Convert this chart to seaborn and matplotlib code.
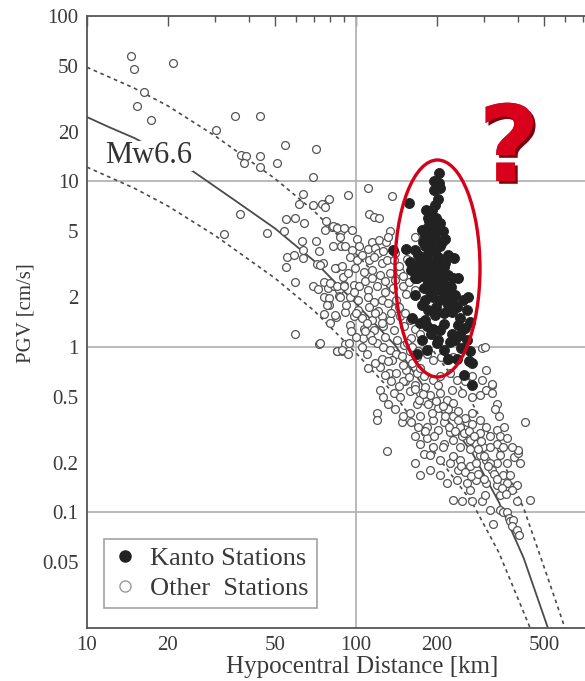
import numpy as np
import pandas as pd
import seaborn as sns
import matplotlib
matplotlib.use("Agg")
import matplotlib.pyplot as plt
from matplotlib.patches import Ellipse
from matplotlib.lines import Line2D
import matplotlib.patheffects as pe

# ---------------- data ----------------
OTHER_DIST = [
    14.6, 15.0, 20.9, 16.3, 15.3, 17.3, 35.6, 43.9, 30.1, 54.6, 71.2, 37.4, 38.9, 38.4, 43.9, 44.0,
    50.8, 69.4, 63.4, 61.5, 69.0, 75.9, 79.6, 37.2, 32.2, 46.7, 54.9, 59.5, 64.2, 53.9, 77.2, 76.5,
    81.4, 84.5, 87.9, 63.0, 70.8, 87.9, 63.5, 73.1, 55.4, 59.0, 63.4, 54.9, 71.6, 75.4, 84.3, 59.2,
    69.2, 72.2, 76.3, 78.5, 83.0, 86.7, 89.5, 90.0, 75.9, 79.1, 79.6, 86.7, 76.3, 79.9, 84.3, 59.3,
    73.1, 85.0, 88.7, 91.2,
    111, 136, 93, 75, 77, 112, 117, 122, 82, 85, 90, 97, 134, 165, 87, 101, 115, 122, 129, 131,
    82, 91, 97, 103, 111, 118, 121, 126, 95, 101, 112, 117, 125, 130, 138, 73.5, 83.5, 89, 93, 99,
    107, 115, 123, 134, 146, 80, 85, 90, 98, 103, 111, 120, 128, 137, 150, 157, 87, 95, 102, 111,
    117, 125, 132, 141, 154, 165, 78, 83.5, 91, 98, 105, 115, 125, 134, 146, 159, 95, 107, 117, 126,
    138, 151, 165, 173, 73.5, 85, 89, 93, 94, 120, 126, 134, 141, 151, 159, 169, 184, 194, 207, 218,
    230, 293, 111, 123, 133, 141, 154, 169, 179, 194, 205, 224, 237, 255, 271, 293, 304, 319, 123, 126,
    138, 146, 159, 173, 188, 205, 218, 230, 248, 269, 289, 304, 320, 334, 120, 120, 148, 159, 173, 184,
    194, 212, 230, 244, 258, 271, 289, 304, 333, 343, 425, 165, 173, 184, 194, 212, 230, 244, 265, 280,
    297, 315, 333, 353, 130, 165, 179, 188, 205, 224, 244, 265, 280, 304, 333, 364, 386, 400, 407, 218,
    237, 258, 280, 304, 333, 364, 397, 230, 248, 271, 293, 315, 343, 353, 364, 369, 374, 385, 379, 397,
    402, 324, 397, 444, 302, 400,
    102, 112, 121, 140, 152, 106, 113, 128, 142, 160, 136, 149, 161, 173, 152, 166, 181, 201, 228, 168,
    181, 201, 220, 240, 255, 271, 289, 315, 201, 224, 248, 265, 289, 320, 353, 374, 380, 343, 302, 265,
    343, 315, 188, 173, 205, 240,
    150, 158, 165, 172, 178, 186, 192, 198, 210, 215, 222, 233, 240, 252, 262, 275, 283, 292, 300, 310,
    325, 335, 350, 360, 230, 245, 255, 268, 285, 300, 210, 195, 180, 170, 160, 150, 140, 132, 145, 135,
    128, 118, 110, 105, 100, 96, 108, 115, 125, 132, 148, 155, 162, 170, 125, 135, 145, 118, 110, 100,
    92, 98, 108, 115, 128, 140, 150, 160, 145, 155, 140, 105, 340, 355, 330, 365, 380, 320,
]
OTHER_PGV = [
    57.5, 47.6, 51.8, 34.7, 28.7, 23.5, 24.9, 25.0, 20.4, 16.5, 15.6, 14.4, 14.3, 12.9, 14.3, 12.2,
    12.9, 10.6, 8.37, 7.34, 7.24, 7.34, 7.87, 6.39, 4.84, 4.89, 5.93, 6.02, 5.64, 5.0, 5.75, 5.07,
    5.29, 5.3, 5.04, 4.35, 4.37, 4.07, 3.84, 3.79, 3.50, 3.58, 3.45, 3.06, 3.16, 3.2, 2.99, 2.46,
    2.35, 2.23, 2.46, 2.26, 2.35, 2.21, 2.65, 2.37, 1.99, 1.98, 1.80, 2.03, 1.57, 1.40, 1.52, 1.19,
    1.04, 0.94, 0.95, 1.04,
    9.1, 8.2, 8.3, 7.3, 7.0, 6.4, 6.1, 6.0, 5.4, 5.2, 5.2, 5.1, 5.0, 4.6, 4.6, 4.5, 4.3, 4.4, 4.3, 4.6,
    4.1, 4.1, 3.86, 4.1, 3.9, 3.95, 3.7, 3.8, 3.5, 3.36, 3.36, 3.5, 3.2, 3.36, 3.36, 3.13, 3.0, 3.1, 2.8, 3.0,
    2.85, 2.92, 2.72, 2.78, 2.85, 2.43, 2.32, 2.32, 2.37, 2.34, 2.21, 2.32, 2.15, 2.26, 2.32, 2.48, 2.0, 2.0, 1.92, 2.0,
    1.87, 1.92, 1.83, 1.92, 2.09, 2.21, 1.79, 1.56, 1.63, 1.54, 1.5, 1.46, 1.54, 1.46, 1.54, 1.46, 1.36, 1.29, 1.27, 1.33,
    1.27, 1.33, 1.29, 1.2, 1.05, 0.94, 0.96, 0.91, 1.05, 1.05, 1.0, 0.96, 0.91, 1.03, 0.94, 0.87, 0.91, 0.83, 0.87, 0.83,
    0.87, 0.98, 0.75, 0.76, 0.70, 0.70, 0.73, 0.70, 0.67, 0.63, 0.67, 0.70, 0.63, 0.62, 0.67, 0.63, 0.73, 0.59, 0.55, 0.50,
    0.53, 0.50, 0.54, 0.53, 0.51, 0.53, 0.48, 0.46, 0.53, 0.50, 0.51, 0.55, 0.53, 0.45, 0.40, 0.36, 0.35, 0.40, 0.38, 0.33,
    0.36, 0.35, 0.38, 0.33, 0.35, 0.40, 0.36, 0.33, 0.315, 0.29, 0.35, 0.29, 0.26, 0.28, 0.25, 0.26, 0.274, 0.25, 0.24, 0.26,
    0.25, 0.29, 0.26, 0.25, 0.235, 0.20, 0.225, 0.222, 0.207, 0.198, 0.207, 0.19, 0.20, 0.207, 0.198, 0.20, 0.215, 0.23, 0.20, 0.15,
    0.157, 0.15, 0.157, 0.15, 0.146, 0.15, 0.146, 0.119, 0.117, 0.117, 0.117, 0.104, 0.104, 0.10, 0.10, 0.093, 0.089, 0.09, 0.083, 0.078,
    0.073, 0.085, 0.117, 0.119, 1.0, 0.239,
    1.67, 1.75, 1.65, 1.71, 1.6, 1.13, 1.18, 1.14, 1.1, 1.13, 0.83, 0.78, 0.8, 0.75, 0.62, 0.59, 0.57, 0.59, 0.55, 0.45,
    0.47, 0.43, 0.42, 0.41, 0.37, 0.34, 0.30, 0.25, 0.315, 0.305, 0.29, 0.274, 0.222, 0.181, 0.168, 0.168, 0.137, 0.128, 0.128, 0.137,
    0.222, 0.20, 0.181, 0.168, 0.168, 0.181,
    0.62, 0.66, 0.56, 0.48, 0.52, 0.45, 0.40, 0.47, 0.44, 0.38, 0.33, 0.31, 0.36, 0.30, 0.31, 0.29, 0.24, 0.27, 0.22, 0.19,
    0.17, 0.16, 0.14, 0.13, 0.22, 0.19, 0.175, 0.165, 0.17, 0.16, 0.25, 0.29, 0.31, 0.33, 0.35, 0.38, 0.42, 0.45, 0.58, 0.62,
    0.68, 0.80, 0.90, 1.0, 1.15, 1.25, 1.25, 1.1, 0.85, 0.82, 0.88, 1.05, 1.0, 0.95, 1.4, 1.6, 1.75, 1.6, 1.4, 1.6,
    1.8, 2.15, 2.5, 2.6, 2.5, 2.55, 2.7, 2.9, 3.1, 3.4, 3.7, 3.6, 0.38, 0.33, 0.42, 0.28, 0.25, 0.60,
]

KANTO_DIST = [
    203, 195, 204, 205, 157, 202, 197, 191, 199, 187, 205, 183, 191, 199, 181, 197, 214, 188, 154, 166,
    181, 191, 205, 197, 183, 232, 159, 171, 183, 194, 212, 199, 188, 169, 169, 181, 194, 209, 186, 199,
    214, 179, 181, 194, 205, 218, 234, 250, 258, 186, 199, 220, 237, 176, 173, 183, 194, 212, 205, 228,
    244, 250, 234, 224, 258, 176, 183, 169, 212, 237, 265, 269, 251, 271, 137,
    191, 184, 201, 173, 220, 205, 188, 166, 228, 244, 265, 161, 201, 220, 182, 195,
    190, 185, 200, 193, 178, 190, 208, 202, 186, 176, 206, 193, 216, 225, 230, 212, 196, 180, 240, 255,
    190, 200, 245, 262, 165, 160, 170, 176, 210, 220, 215, 240, 260, 230,
]
KANTO_PGV = [
    11.3, 10.1, 9.8, 9.1, 7.4, 7.8, 7.2, 6.15, 6.0, 5.75, 5.6, 5.2, 5.1, 5.0, 4.7, 4.6, 4.5, 4.4, 3.9, 3.86,
    4.05, 3.95, 4.1, 3.7, 3.6, 3.45, 3.27, 3.2, 3.36, 3.2, 3.05, 3.0, 2.92, 3.0, 2.6, 2.66, 2.6, 2.54, 2.43, 2.37,
    2.37, 2.27, 1.92, 2.0, 1.92, 2.0, 2.06, 1.92, 1.67, 1.67, 1.75, 1.79, 1.75, 1.79, 1.4, 1.33, 1.29, 1.38, 1.27, 1.2,
    1.18, 1.29, 1.1, 1.07, 1.1, 1.1, 0.96, 0.91, 0.96, 0.85, 0.94, 0.8, 0.68, 0.59, 3.86,
    6.7, 4.1, 3.5, 2.72, 2.72, 2.21, 2.15, 2.06, 1.62, 1.5, 1.42, 1.5, 1.1, 0.85, 6.7, 8.9,
    5.5, 6.0, 5.3, 4.8, 4.3, 4.2, 4.3, 3.4, 3.1, 2.9, 2.8, 2.4, 2.1, 2.3, 1.85, 1.6, 1.55, 1.45, 1.35, 1.3,
    1.2, 1.05, 0.98, 0.82, 2.6, 2.9, 3.6, 5.1, 5.0, 3.6, 3.2, 2.6, 2.0, 2.6,
]

# attenuation curve (Mw6.6) and its bounds
MEAN_DIST = [10, 12, 15, 20, 25, 35, 50, 70, 100, 140, 200, 270, 340, 420, 517]
MEAN_PGV = [24.5, 21.4, 18.3, 14.3, 11.4, 7.8, 5.2, 3.3, 1.83, 1.02, 0.44, 0.23, 0.115, 0.053, 0.02]
UPPER_DIST = [10, 15, 20, 30, 50, 70, 100, 140, 200, 270, 340, 420, 517, 598]
UPPER_PGV = [49, 36.6, 28.6, 18.8, 10.4, 6.6, 3.66, 2.04, 0.88, 0.46, 0.23, 0.106, 0.04, 0.02]
LOWER_DIST = [10, 15, 20, 30, 50, 70, 100, 140, 200, 270, 340, 444]
LOWER_PGV = [12.2, 9.1, 7.1, 4.7, 2.6, 1.65, 0.92, 0.51, 0.22, 0.115, 0.057, 0.02]

X_TICKS = [10, 20, 50, 100, 200, 500]
X_TICK_LABELS = ["10", "20", "50", "100", "200", "500"]
Y_TICKS = [0.05, 0.1, 0.2, 0.5, 1, 2, 5, 10, 20, 50, 100]
Y_TICK_LABELS = ["0.05", "0.1", "0.2", "0.5", "1", "2", "5", "10", "20", "50", "100"]
GRID_X = [100]
GRID_Y = [0.1, 1, 10]

# ---------------- styling ----------------
sns.set_style("white")
plt.rcParams["font.family"] = ["Liberation Serif", "DejaVu Serif"]

fig = plt.figure(figsize=(5.85, 6.81), dpi=100)
W, H = 585.0, 681.0
ax = fig.add_axes([87 / W, 1 - 628 / H, 538 / W, 612 / H])
ax.set_xscale("log")
ax.set_yscale("log")
ax.set_xlim(10, 1000)
ax.set_ylim(0.02, 100)

grid_c = "#b4b4b4"
for gx in GRID_X:
    ax.axvline(gx, color=grid_c, lw=1.3, zorder=1)
for gy in GRID_Y:
    ax.axhline(gy, color=grid_c, lw=1.3, zorder=1)

line_c = "#4a4a4a"
sns.lineplot(x=MEAN_DIST, y=MEAN_PGV, ax=ax, color=line_c, lw=1.3, sort=False,
             estimator=None, zorder=2)
sns.lineplot(x=UPPER_DIST, y=UPPER_PGV, ax=ax, color=line_c, lw=1.2, sort=False,
             estimator=None, zorder=2, linestyle=(0, (2.2, 2.2)))
sns.lineplot(x=LOWER_DIST, y=LOWER_PGV, ax=ax, color=line_c, lw=1.2, sort=False,
             estimator=None, zorder=2, linestyle=(0, (2.2, 2.2)))

df_other = pd.DataFrame({"dist": OTHER_DIST, "pgv": OTHER_PGV})
df_kanto = pd.DataFrame({"dist": KANTO_DIST, "pgv": KANTO_PGV})
sns.scatterplot(data=df_other, x="dist", y="pgv", ax=ax, marker="o", s=32,
                facecolor="white", edgecolor="#555555", linewidth=0.9, zorder=3,
                legend=False)
sns.scatterplot(data=df_kanto, x="dist", y="pgv", ax=ax, marker="o", s=52,
                facecolor="#222222", edgecolor="#222222", linewidth=0.6, zorder=4,
                legend=False)

ax.text(17.0, 14.3, "Mw6.6", fontsize=22, color="#333333", ha="center", va="center",
        zorder=2.5, bbox=dict(facecolor="white", edgecolor="none", pad=0.5))

# ticks and spines
ax.set_xticks(X_TICKS, labels=X_TICK_LABELS)
ax.set_yticks(Y_TICKS, labels=Y_TICK_LABELS)
ax.set_xticks([30, 40, 60, 70, 80, 90, 300, 400, 600, 700, 800, 900], minor=True)
ax.set_yticks([0.03, 0.04, 0.06, 0.07, 0.08, 0.09, 0.3, 0.4, 0.6, 0.7, 0.8, 0.9,
               3, 4, 6, 7, 8, 9, 30, 40, 60, 70, 80, 90], minor=True)
ax.tick_params(which="both", direction="in", top=True, right=False, color="#555555",
               width=1.0)
ax.tick_params(which="major", length=7, labelsize=15, labelcolor="#3a3a3a", pad=6)
ax.tick_params(which="minor", length=4)
ax.set_xlim(10, 1000)
ax.set_ylim(0.02, 100)
for side in ["left", "bottom", "top", "right"]:
    ax.spines[side].set_color("#555555")
    ax.spines[side].set_linewidth(1.3)

ax.set_ylabel("PGV [cm/s]", fontsize=15, color="#3a3a3a")
ax.yaxis.set_label_coords(-(87 - 26) / 538, (628 - 313) / 612)
ax.yaxis.label.set_va("center")
ax.set_xlabel("Hypocentral Distance [km]", fontsize=18, color="#3a3a3a")
ax.xaxis.set_label_coords((362 - 87) / 538, -(667 - 628) / 612)
ax.xaxis.label.set_va("center")

# legend
handles = [
    Line2D([], [], linestyle="none", marker="o", markersize=8, markerfacecolor="#222222",
           markeredgecolor="#222222"),
    Line2D([], [], linestyle="none", marker="o", markersize=8, markerfacecolor="white",
           markeredgecolor="#9a9a9a", markeredgewidth=1.0),
]
leg = ax.legend(handles, ["Kanto Stations", "Other  Stations"], loc="lower left",
                bbox_to_anchor=((104 - 87) / 538, (628 - 608) / 612), borderaxespad=0,
                fontsize=19, frameon=True, fancybox=False, handlelength=1.0,
                handletextpad=0.45, borderpad=0.3, labelspacing=0.25)
leg.get_frame().set_edgecolor("#8a8a8a")
leg.get_frame().set_linewidth(1.2)
for t in leg.get_texts():
    t.set_color("#3a3a3a")

# red annotation: ellipse and question mark
ell = Ellipse(((437.5 - 87) / 538, (628 - 268.5) / 612), 85 / 538, 217 / 612,
              transform=ax.transAxes, fill=False, edgecolor="#d60018", lw=2.4, zorder=6,
              clip_on=False)
ax.add_patch(ell)
fig.text(509 / W, 1 - 152 / H, "?", fontsize=76, fontweight="bold", color="#d8001a",
         ha="center", va="center", family=["DejaVu Sans"],
         path_effects=[pe.withSimplePatchShadow(offset=(2, -2), shadow_rgbFace="#7a0010",
                                                alpha=1.0), pe.Normal()])

fig.savefig("out.png", dpi=100, facecolor="white")
